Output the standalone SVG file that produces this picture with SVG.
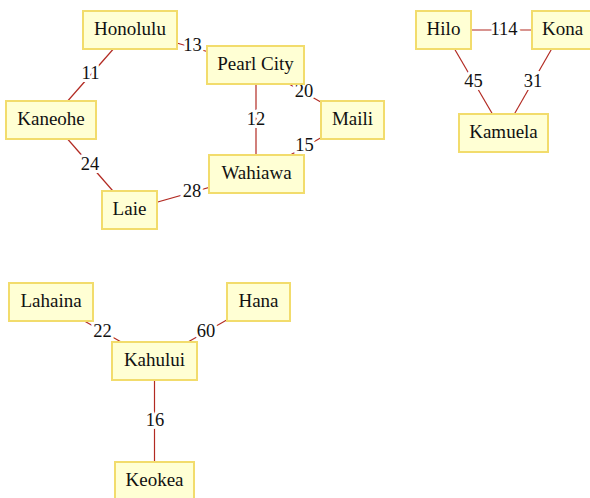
<svg xmlns="http://www.w3.org/2000/svg" width="590" height="498" viewBox="0 0 590 498">
<style>
.box{fill:#ffffd4;stroke:#f2dc6c;stroke-width:2}
.nt{font-family:'Liberation Serif','Times New Roman',serif;font-size:19px;fill:#111;text-anchor:middle}
.el{stroke:#b22a22;stroke-width:1.2}
.lt{font-family:'Liberation Serif','Times New Roman',serif;font-size:18.5px;fill:#111;text-anchor:middle;stroke:#fff;stroke-width:6;paint-order:stroke;stroke-linejoin:round}
</style>
<rect width="590" height="498" fill="#fff"/>
<g id="connectors">
<line class="el" x1="130" y1="30" x2="255.5" y2="65"/>
<line class="el" x1="130" y1="30" x2="51" y2="120"/>
<line class="el" x1="51" y1="120" x2="129.5" y2="210"/>
<line class="el" x1="129.5" y1="210" x2="256.5" y2="174"/>
<line class="el" x1="256" y1="65" x2="256" y2="174"/>
<line class="el" x1="255.5" y1="65" x2="352.5" y2="120"/>
<line class="el" x1="352.5" y1="120" x2="256.5" y2="174"/>
<line class="el" x1="443.5" y1="30" x2="562.5" y2="30"/>
<line class="el" x1="443.5" y1="30" x2="503.5" y2="133"/>
<line class="el" x1="562.5" y1="30" x2="503.5" y2="133"/>
<line class="el" x1="51" y1="302" x2="154.5" y2="361"/>
<line class="el" x1="258.5" y1="302" x2="154.5" y2="361"/>
<line class="el" x1="154.5" y1="361" x2="154.5" y2="481"/>
<text class="lt" x="192.5" y="51">13</text>
<text class="lt" x="90.5" y="79">11</text>
<text class="lt" x="90" y="170">24</text>
<text class="lt" x="192" y="197">28</text>
<text class="lt" x="256" y="124.5">12</text>
<text class="lt" x="304" y="96.5">20</text>
<text class="lt" x="304.5" y="151">15</text>
<text class="lt" x="504" y="35">114</text>
<text class="lt" x="473.5" y="86.5">45</text>
<text class="lt" x="533" y="86.5">31</text>
<text class="lt" x="102.5" y="336.5">22</text>
<text class="lt" x="206" y="336.5">60</text>
<text class="lt" x="155" y="426">16</text>
</g>
<g id="honolulu"><rect class="box" x="83" y="11" width="94" height="38"/><text class="nt" x="130" y="34.5">Honolulu</text></g>
<g id="pearl-city"><rect class="box" x="207" y="46" width="97" height="38"/><text class="nt" x="255.5" y="69.5">Pearl City</text></g>
<g id="kaneohe"><rect class="box" x="6" y="101" width="90" height="38"/><text class="nt" x="51" y="124.5">Kaneohe</text></g>
<g id="maili"><rect class="box" x="321" y="101" width="63" height="38"/><text class="nt" x="352.5" y="124.5">Maili</text></g>
<g id="wahiawa"><rect class="box" x="209" y="155" width="95" height="38"/><text class="nt" x="256.5" y="178.5">Wahiawa</text></g>
<g id="laie"><rect class="box" x="102" y="191" width="55" height="38"/><text class="nt" x="129.5" y="214.5">Laie</text></g>
<g id="hilo"><rect class="box" x="416" y="11" width="55" height="38"/><text class="nt" x="443.5" y="34.5">Hilo</text></g>
<g id="kona"><rect class="box" x="532" y="11" width="61" height="38"/><text class="nt" x="562.5" y="34.5">Kona</text></g>
<g id="kamuela"><rect class="box" x="459" y="114" width="89" height="38"/><text class="nt" x="503.5" y="137.5">Kamuela</text></g>
<g id="lahaina"><rect class="box" x="9" y="283" width="84" height="38"/><text class="nt" x="51" y="306.5">Lahaina</text></g>
<g id="hana"><rect class="box" x="227" y="283" width="63" height="38"/><text class="nt" x="258.5" y="306.5">Hana</text></g>
<g id="kahului"><rect class="box" x="112" y="342" width="85" height="38"/><text class="nt" x="154.5" y="365.5">Kahului</text></g>
<g id="keokea"><rect class="box" x="115" y="462" width="79" height="38"/><text class="nt" x="154.5" y="485.5">Keokea</text></g>
</svg>
